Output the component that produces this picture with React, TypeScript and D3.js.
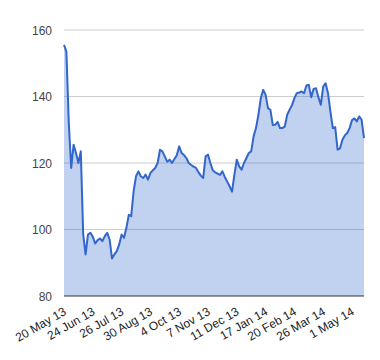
import React from "react";
import * as d3 from "d3";

const tickLabels = [
  "20 May 13", "24 Jun 13", "26 Jul 13", "30 Aug 13", "4 Oct 13", "7 Nov 13",
  "11 Dec 13", "17 Jan 14", "20 Feb 14", "26 Mar 14", "1 May 14",
];
const tickStep = 12; // points between labels
const yTicks = [80, 100, 120, 140, 160];

const values = [
  155.5, 153.5, 132, 118.5, 125.5, 123, 120, 123.5, 98.5, 92.5,
  98.5, 99, 97.8, 95.8, 96.8, 97.3, 96.5, 98, 99, 97,
  91.3, 92.5, 93.5, 95.5, 98.5, 97.5, 100.5, 104.4, 104, 111.5,
  116, 117.5, 116, 115.5, 116.5, 115, 117, 117.8, 118.5, 120,
  124, 123.5, 122, 120.4, 121, 120, 121.2, 122.3, 125, 123,
  122.4, 121.5, 120, 119.4, 118.9, 118.5, 117.3, 116.2, 115.5, 122,
  122.5, 120, 117.8, 117.2, 116.8, 116.4, 117.5, 115.8, 114.4, 113,
  111.4, 116.5, 121, 119, 118, 120, 121.5, 123, 123.5, 128,
  130.5, 134.5, 139.5, 142, 140.5, 136.5, 136, 131.4, 131.5, 132.4,
  130.5, 130.5, 131, 134.5, 136, 137.4, 139.5, 141, 141.2, 141.5,
  141, 143.3, 143.5, 139.8, 142.3, 142.5, 139.8, 137.5, 143, 144,
  141, 135.5, 130.5, 130.8, 124, 124.4, 127, 128.3, 129, 130.5,
  132.9, 133.4, 132.5, 134, 133, 127.5,
];

export default function App() {
  const W = 380, H = 360;
  const left = 64, right = 364, top = 30, bottom = 296;
  const x = d3.scaleLinear().domain([0, values.length - 1]).range([left, right]);
  const y = d3.scaleLinear().domain([80, 160]).range([bottom, top]);
  const line = d3.line<number>().x((_, i) => x(i)).y((d) => y(d));
  const area = d3.area<number>().x((_, i) => x(i)).y0(y(80)).y1((d) => y(d));
  const font = "Arial, 'Liberation Sans', sans-serif";
  return (
    <svg width={W} height={H} style={{ position: "absolute", left: 0, top: 0 }} fontFamily={font}>
      <rect width={W} height={H} fill="#fff" />
      {yTicks.slice(1).map((t) => (
        <line key={t} x1={left} x2={right} y1={y(t)} y2={y(t)} stroke="#cccccc" strokeWidth={1} />
      ))}
      <path d={area(values) || ""} fill="#3366cc" fillOpacity={0.3} />
      <path d={line(values) || ""} fill="none" stroke="#3366cc" strokeWidth={2} strokeLinejoin="round" />
      <line x1={left} x2={right} y1={y(80)} y2={y(80)} stroke="#333333" strokeWidth={1} />
      {yTicks.map((t) => (
        <text key={t} x={52} y={y(t) + 4.5} textAnchor="end" fontSize={12} fill="#444444">
          {t}
        </text>
      ))}
      {tickLabels.map((lab, i) => (
        <text
          key={lab}
          transform={`translate(${x(i * tickStep) + 3},314) rotate(-30)`}
          textAnchor="end"
          fontSize={12}
          fill="#222222"
        >
          {lab}
        </text>
      ))}
    </svg>
  );
}
